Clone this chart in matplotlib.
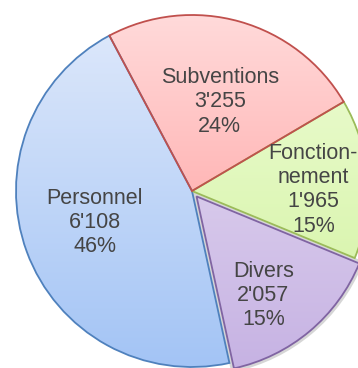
import numpy as np
import matplotlib
matplotlib.use("Agg")
import matplotlib.pyplot as plt
from matplotlib.patches import Wedge
from matplotlib.colors import LinearSegmentedColormap

# data
categories = ["Personnel", "Divers", "Fonctionnement", "Subventions"]
label_names = ["Personnel", "Divers", "Fonction-\nnement", "Subventions"]
values = [6108, 2057, 1965, 3255]
explode = [0, 0.04, 0, 0]

# style
top_colors = ["#dfe9fb", "#e9e0f3", "#eefdd6", "#ffdada"]
bottom_colors = ["#a3c4f5", "#c6b2e3", "#d2f2a0", "#ff9494"]
edge_colors = ["#4f81bd", "#8064a2", "#9bbb59", "#c0504d"]
label_r = [0.58, 0.68, 0.69, 0.53]
label_dtheta = [-2, -6, -3.5, -1.5]
text_color = "#454545"


def fmt(v):
    return "{:,}".format(v).replace(",", "'")


fig = plt.figure(figsize=(3.58, 3.68), dpi=100)
ax = fig.add_axes([0, 0, 1, 1])

wedges, _ = ax.pie(values, explode=explode, startangle=118, counterclock=True,
                   radius=1.0, colors=["none"] * 4,
                   wedgeprops=dict(linewidth=1.3))

total = sum(values)
for i, w in enumerate(wedges):
    w.set_edgecolor(edge_colors[i])
    w.set_zorder(3)
    # gradient fill clipped to the wedge
    cmap = LinearSegmentedColormap.from_list("g%d" % i, [bottom_colors[i], top_colors[i]])
    grad = np.linspace(0, 1, 256).reshape(-1, 1)
    cx, cy = w.center
    im = ax.imshow(grad, cmap=cmap, origin="lower", aspect="auto",
                   extent=[cx - 1, cx + 1, cy - 1, cy + 1], zorder=2,
                   interpolation="bilinear")
    im.set_clip_path(w)
    if categories[i] == "Divers":
        # soft shadow around the exploded slice
        sh = Wedge((cx, cy), 1.0, w.theta1, w.theta2, facecolor="none",
                   edgecolor="#bbbbbb", linewidth=5, alpha=0.6, zorder=1.5)
        ax.add_patch(sh)

    mid = np.deg2rad((w.theta1 + w.theta2) / 2 + label_dtheta[i])
    r = label_r[i]
    pct = round(100 * values[i] / total)
    txt = "%s\n%s\n%d%%" % (label_names[i], fmt(values[i]), pct)
    ax.text(cx + r * np.cos(mid), cy + r * np.sin(mid), txt, ha="center", va="center",
            fontsize=15.5, color=text_color, family="Liberation Sans",
            linespacing=1.2, zorder=5)

ax.set_aspect("auto")
ax.set_xlim(-192 / 176, (358 - 192) / 176)
ax.set_ylim((191 - 368) / 176, 191 / 176)
ax.axis("off")

fig.savefig("out.png", dpi=100)
